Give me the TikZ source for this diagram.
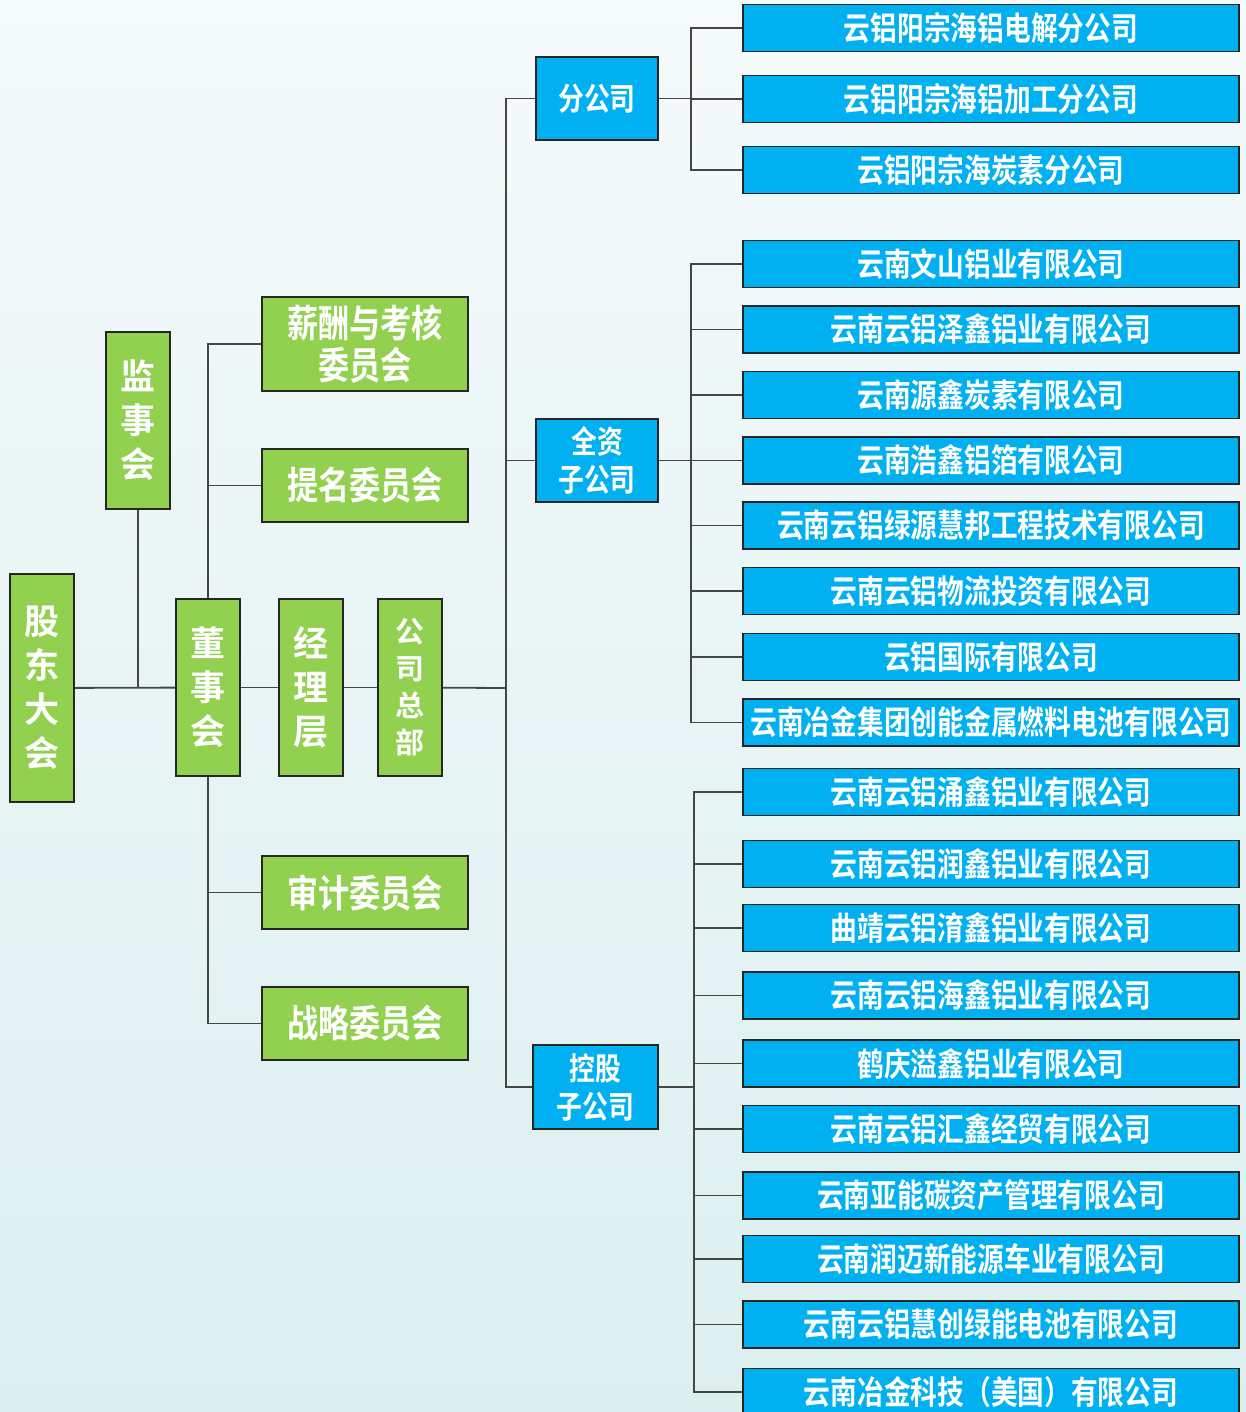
\documentclass[tikz,border=0pt]{standalone}
\usepackage{fontspec}
\newfontfamily\zh{Noto Sans CJK SC Bold}
\newfontfamily\zhn{Noto Sans CJK SC Bold}[FakeStretch=0.82]
\definecolor{lvse}{HTML}{92D050}
\definecolor{lanse}{HTML}{00B0F0}
\definecolor{bgtop}{HTML}{F5FAFB}
\definecolor{bgbot}{HTML}{DCEFEF}
\definecolor{xian}{HTML}{454545}
\tikzset{
  unit/.style={draw=black!85, line width=1.6pt, text=white, inner sep=0pt, align=center},
  greenbox/.style={unit, fill=lvse},
  bluebox/.style={unit, fill=lanse},
  vbox/.style={greenbox, minimum width=64pt, minimum height=177pt, font=\zh\fontsize{35}{44}\selectfont},
  wbox/.style={greenbox, minimum width=206pt, minimum height=73pt, font=\zhn\fontsize{38}{42}\selectfont},
  sbox/.style={bluebox, minimum width=122pt, minimum height=83pt, font=\zhn\fontsize{31.5}{38}\selectfont},
  combox/.style={bluebox, minimum width=496pt, minimum height=47pt, font=\zhn\fontsize{32.6}{33}\selectfont},
  link/.style={draw=xian, line width=1.8pt},
}
\begin{document}
\begin{tikzpicture}[x=1pt, y=-1pt]
\clip (0,0) rectangle (1246,1412);
\shade[top color=bgtop, bottom color=bgbot] (0,0) rectangle (1246,1412);

% governance
\node[vbox, minimum height=228pt] (gd) at (42,688) {股\\东\\大\\会};
\node[vbox] (js) at (138,420.5) {监\\事\\会};
\node[vbox] (dsh) at (208,687.5) {董\\事\\会};
\node[vbox] (jlc) at (311,687.5) {经\\理\\层};
\node[vbox, font=\zh\fontsize{29}{37}\selectfont] (zb) at (410,687.5) {公\\司\\总\\部};

\node[wbox, minimum height=94pt] (xc) at (365,344) {薪酬与考核\\委员会};
\node[wbox] (tm) at (365,485.5) {提名委员会};
\node[wbox] (sj) at (365,892.5) {审计委员会};
\node[wbox] (zl) at (365,1023.5) {战略委员会};

\draw[link] (gd) -- (dsh) (js) -- (js |- gd);
\draw[link] (dsh) -- (jlc) (jlc) -- (zb);
\draw[link] (dsh.north) |- (xc.west) (dsh.north) |- (tm.west);
\draw[link] (dsh.south) |- (sj.west) (dsh.south) |- (zl.west);

% subsidiaries
\node[sbox] (fgs) at (597,98.5) {分公司};
\node[sbox] (qz) at (597,460.5) {全资\\子公司};
\node[sbox, minimum width=125pt, minimum height=84pt] (kg) at (595.5,1087) {控股\\子公司};

\coordinate (hub) at (506,688);
\draw[link] (zb) -- (hub);
\draw[link] (hub) |- (fgs.west) (hub) |- (qz.west) (hub) |- (kg.west);

\coordinate (fj) at (691,98.5);
\coordinate (qj) at (691,460.5);
\coordinate (kj) at (694,1087);
\draw[link] (fgs.east) -- (fj) (qz.east) -- (qj) (kg.east) -- (kj);

\foreach \y/\t [count=\i] in {28/云铝阳宗海铝电解分公司, 99/云铝阳宗海铝加工分公司,
    170/云铝阳宗海炭素分公司}{
  \node[combox] (f\i) at (991,\y) {\t};
  \draw[link] (fj) |- (f\i.west);
}
\foreach \y/\t [count=\i] in {264/云南文山铝业有限公司, 329.5/云南云铝泽鑫铝业有限公司,
    395/云南源鑫炭素有限公司, 460.5/云南浩鑫铝箔有限公司, 525.5/云南云铝绿源慧邦工程技术有限公司,
    591/云南云铝物流投资有限公司, 657/云铝国际有限公司, 722.5/云南冶金集团创能金属燃料电池有限公司}{
  \node[combox] (q\i) at (991,\y) {\t};
  \draw[link] (qj) |- (q\i.west);
}
\foreach \y/\t [count=\i] in {792/云南云铝涌鑫铝业有限公司, 864/云南云铝润鑫铝业有限公司,
    928/曲靖云铝淯鑫铝业有限公司, 995.5/云南云铝海鑫铝业有限公司, 1063.5/鹤庆溢鑫铝业有限公司,
    1129/云南云铝汇鑫经贸有限公司, 1195.5/云南亚能碳资产管理有限公司, 1259/云南润迈新能源车业有限公司,
    1324.5/云南云铝慧创绿能电池有限公司, 1392/云南冶金科技（美国）有限公司}{
  \node[combox] (k\i) at (991,\y) {\t};
  \draw[link] (kj) |- (k\i.west);
}
\end{tikzpicture}
\end{document}
